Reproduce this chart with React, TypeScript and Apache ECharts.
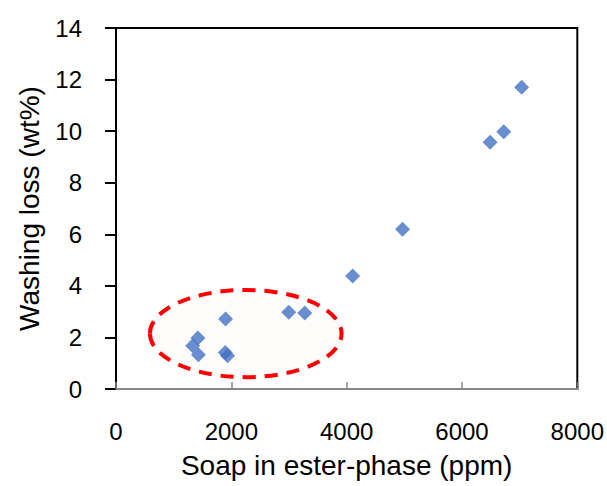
import React, { useEffect, useRef } from "react";
import * as echarts from "echarts";

const soapPpm = [7035, 6724, 6488, 4970, 4104, 3273, 2996, 1900, 1420, 1330, 1430, 1895, 1935];
const washingLoss = [11.7, 9.98, 9.57, 6.2, 4.38, 2.95, 2.98, 2.71, 1.98, 1.68, 1.33, 1.42, 1.29];

// highlighted region (data units): center and radii
const ellipseCenter = [2250, 2.15];
const ellipseRadius = [1662, 1.69];

const xTitle = "Soap in ester-phase (ppm)";
const yTitle = "Washing loss (wt%)";

export default function App() {
  const ref = useRef<HTMLDivElement>(null);
  useEffect(() => {
    if (!ref.current) return;
    const chart = echarts.init(ref.current, null, { renderer: "svg" });
    const font = "Arial, 'Liberation Sans', sans-serif";
    chart.setOption({
      animation: false,
      grid: {
        left: 116,
        right: 29,
        top: 28,
        bottom: 97,
        show: true,
        borderColor: "#000",
        borderWidth: 2,
        backgroundColor: "transparent",
      },
      xAxis: {
        type: "value",
        min: 0,
        max: 8000,
        interval: 2000,
        name: xTitle,
        nameLocation: "middle",
        nameGap: 62,
        nameTextStyle: { fontSize: 28, color: "#000", fontFamily: font },
        axisLine: { show: true, lineStyle: { color: "#888", width: 2 } },
        axisTick: { show: true, inside: true, length: 7, lineStyle: { color: "#888", width: 1.5 } },
        axisLabel: {
          fontSize: 24,
          color: "#000",
          fontFamily: font,
          margin: 30,
          formatter: (v: number) => String(v),
        },
        splitLine: { show: false },
      },
      yAxis: {
        type: "value",
        min: 0,
        max: 14,
        interval: 2,
        name: yTitle,
        nameLocation: "middle",
        nameGap: 73,
        nameTextStyle: { fontSize: 28, color: "#000", fontFamily: font },
        axisLine: { show: true, lineStyle: { color: "#000", width: 2 } },
        axisTick: { show: true, inside: false, length: 11, lineStyle: { color: "#000", width: 2 } },
        axisLabel: { fontSize: 24, color: "#000", fontFamily: font, margin: 34 },
        splitLine: { show: false },
      },
      series: [
        {
          type: "scatter",
          data: soapPpm.map((x, i) => [x, washingLoss[i]]),
          symbol: "diamond",
          symbolSize: 15,
          itemStyle: { color: "#4472C4" },
          z: 5,
        },
      ],
    });
    const c = chart.convertToPixel({ gridIndex: 0 }, ellipseCenter) as number[];
    const e = chart.convertToPixel({ gridIndex: 0 }, [
      ellipseCenter[0] + ellipseRadius[0],
      ellipseCenter[1] + ellipseRadius[1],
    ]) as number[];
    chart.setOption({
      graphic: [
        {
          type: "ellipse",
          z: 1,
          shape: { cx: c[0], cy: c[1], rx: Math.abs(e[0] - c[0]), ry: Math.abs(e[1] - c[1]) },
          style: { fill: "#FFFDFC", stroke: "#FF0000", lineWidth: 4, lineDash: [13, 9] },
        },
      ],
    });
    return () => chart.dispose();
  }, []);
  return <div ref={ref} style={{ width: 607, height: 486, position: "absolute", left: 0, top: 0 }} />;
}
